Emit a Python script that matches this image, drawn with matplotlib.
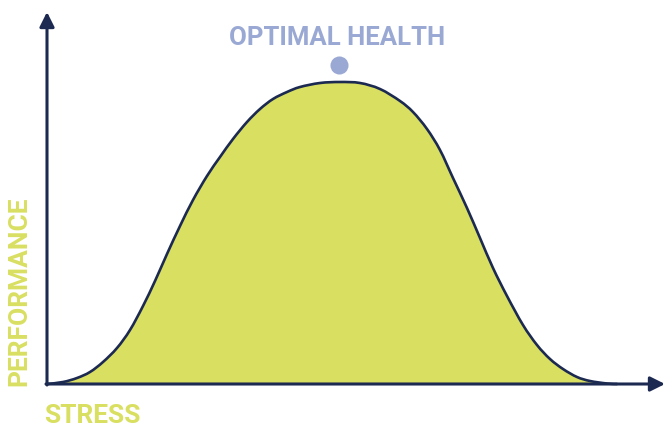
import numpy as np
import matplotlib.pyplot as plt
from matplotlib.path import Path
from matplotlib.patches import PathPatch

# stress / performance curve
stress = [47, 63, 77, 90, 103, 117, 130, 143, 155, 167, 180, 193, 207, 220,
          233, 247, 260, 273, 287, 300, 320, 340, 360, 380, 400, 413, 427, 440,
          453, 467, 480, 493, 507, 523, 537, 550, 563, 577, 590, 607, 617]
performance = [0, 2, 6, 12, 22, 36, 54, 78, 103, 130, 158, 184, 208, 227,
               245, 262, 275, 285, 292, 297, 301, 302, 301, 295, 283, 272, 255, 234,
               206, 176, 146, 116, 88, 59, 39, 25, 15, 7, 3, 0.5, 0]

peak_label = "OPTIMAL HEALTH"
x_label = "STRESS"
y_label = "PERFORMANCE"

navy = "#1c2951"
lime = "#d9df61"
lilac = "#9aa8d4"


def smooth_path(xs, ys, close=False):
    # Catmull-Rom through the read points, drawn as cubic Bezier segments
    p = np.column_stack([xs, ys]).astype(float)
    ext = np.vstack([p[0], p, p[-1]])
    verts = [p[0]]
    codes = [Path.MOVETO]
    for k in range(1, len(ext) - 2):
        p0, p1, p2, p3 = ext[k - 1], ext[k], ext[k + 1], ext[k + 2]
        verts += [p1 + (p2 - p0) / 6, p2 - (p3 - p1) / 6, p2]
        codes += [Path.CURVE4] * 3
    if close:
        verts.append(p[0])
        codes.append(Path.LINETO)
    return Path(verts, codes)


fig = plt.figure(figsize=(6.65, 4.3), dpi=100)
ax = fig.add_axes([0, 0, 1, 1])
ax.set_xlim(0, 665)
ax.set_ylim(-46, 384)
ax.axis("off")

ax.add_patch(PathPatch(smooth_path(stress, performance, close=True),
                       facecolor=lime, edgecolor="none"))
ax.add_patch(PathPatch(smooth_path(stress, performance), facecolor="none",
                       edgecolor=navy, lw=1.9, capstyle="round"))

# axes with arrow heads
ax.annotate("", xy=(47, 372), xytext=(47, -1),
            arrowprops=dict(arrowstyle="-|>", color=navy, lw=2.2, mutation_scale=22,
                            shrinkA=0, shrinkB=0))
ax.annotate("", xy=(665, 0), xytext=(46, 0),
            arrowprops=dict(arrowstyle="-|>", color=navy, lw=2.2, mutation_scale=22,
                            shrinkA=0, shrinkB=0))

# peak marker and label
i = int(np.argmax(performance))
ax.plot(339, performance[i] + 17, "o", ms=13, color=lilac, mec="none")
ax.text(337, 346, peak_label, color=lilac, fontsize=18.5, fontweight="bold",
        family="Roboto", ha="center", va="center")

ax.text(92, -32, x_label, color=lime, fontsize=19, fontweight="bold",
        family="Roboto", ha="center", va="center")
ax.text(19, 93, y_label, color=lime, fontsize=19, fontweight="bold",
        family="Roboto", ha="center", va="center", rotation=90)

fig.savefig("out.png", dpi=100)
